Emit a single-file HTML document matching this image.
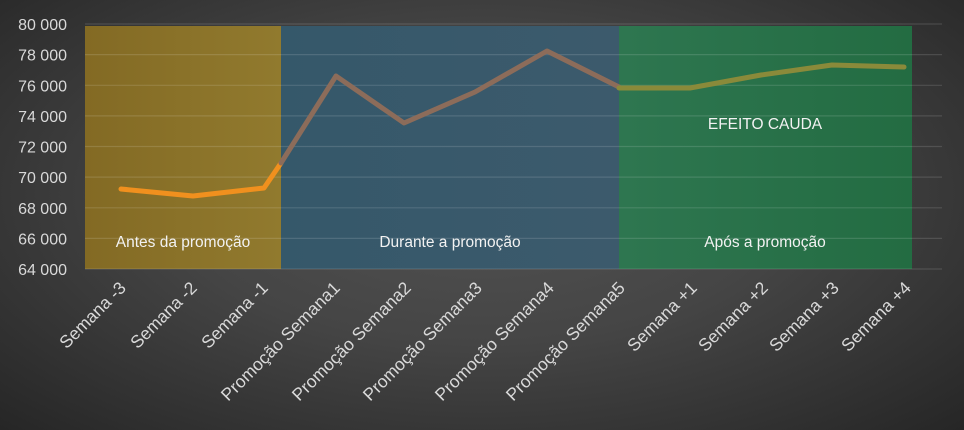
<!DOCTYPE html>
<html><head><meta charset="utf-8"><style>
html,body{margin:0;padding:0;}
body{width:964px;height:430px;overflow:hidden;background:radial-gradient(ellipse at 50% 45%,#525252 0%,#454545 45%,#262626 100%);font-family:"Liberation Sans",sans-serif;}
</style></head><body>
<svg width="964" height="430" xmlns="http://www.w3.org/2000/svg" style="display:block">
<defs>
<linearGradient id="ly" x1="0" x2="1"><stop offset="0" stop-color="#836a24"/><stop offset="1" stop-color="#917a2e"/></linearGradient>
<linearGradient id="lb" x1="0" x2="1"><stop offset="0" stop-color="#35586a"/><stop offset="1" stop-color="#3c5a6c"/></linearGradient>
<linearGradient id="lg" x1="0" x2="1"><stop offset="0" stop-color="#2e7650"/><stop offset="1" stop-color="#236c42"/></linearGradient>
</defs>
<rect x="85" y="26" width="196" height="243" fill="url(#ly)"/>
<rect x="281" y="26" width="338" height="243" fill="url(#lb)"/>
<rect x="619" y="26" width="293" height="243" fill="url(#lg)"/>
<g stroke="rgba(255,255,255,0.13)" stroke-width="1.2">
<line x1="85" x2="942" y1="24" y2="24"/><line x1="85" x2="942" y1="54.6" y2="54.6"/><line x1="85" x2="942" y1="85.3" y2="85.3"/><line x1="85" x2="942" y1="115.9" y2="115.9"/><line x1="85" x2="942" y1="146.5" y2="146.5"/><line x1="85" x2="942" y1="177.1" y2="177.1"/><line x1="85" x2="942" y1="207.8" y2="207.8"/><line x1="85" x2="942" y1="238.4" y2="238.4"/><line x1="85" x2="942" y1="269" y2="269"/>
</g>
<g fill="#d9d9d9" font-size="16" text-anchor="end">
<text x="67" y="30">80 000</text><text x="67" y="60.6">78 000</text><text x="67" y="91.3">76 000</text><text x="67" y="121.9">74 000</text><text x="67" y="152.5">72 000</text><text x="67" y="183.1">70 000</text><text x="67" y="213.8">68 000</text><text x="67" y="244.4">66 000</text><text x="67" y="275">64 000</text>
</g>
<g fill="none" stroke-width="5" stroke-linejoin="round" stroke-linecap="round">
<polyline stroke="#f0901e" points="121,189 193,196 264,188 281,163"/>
<polyline stroke="#8c6c5a" points="281,163 336,76 404,123 475,92 547,51 619,87"/>
<polyline stroke="#8a8a3a" points="619,88 690,88 761,75 832,65 904,67"/>
</g>
<g fill="#f2f2f2" font-size="15.5" text-anchor="middle">
<text x="183" y="247">Antes da promoção</text>
<text x="450" y="247">Durante a promoção</text>
<text x="765" y="247">Após a promoção</text>
<text x="765" y="129">EFEITO CAUDA</text>
</g>
<g fill="#d9d9d9" font-size="17.5" text-anchor="end">
<text transform="translate(127,289) rotate(-45)">Semana -3</text>
<text transform="translate(198,289) rotate(-45)">Semana -2</text>
<text transform="translate(269,289) rotate(-45)">Semana -1</text>
<text transform="translate(341,289) rotate(-45)">Promoção Semana1</text>
<text transform="translate(412,289) rotate(-45)">Promoção Semana2</text>
<text transform="translate(483,289) rotate(-45)">Promoção Semana3</text>
<text transform="translate(555,289) rotate(-45)">Promoção Semana4</text>
<text transform="translate(626,289) rotate(-45)">Promoção Semana5</text>
<text transform="translate(698,289) rotate(-45)">Semana +1</text>
<text transform="translate(769,289) rotate(-45)">Semana +2</text>
<text transform="translate(840,289) rotate(-45)">Semana +3</text>
<text transform="translate(912,289) rotate(-45)">Semana +4</text>
</g>
</svg>
</body></html>
